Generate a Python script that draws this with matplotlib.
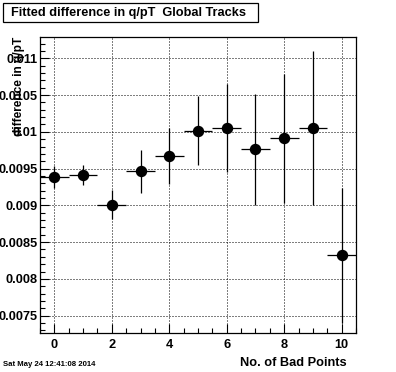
import numpy as np
import matplotlib
matplotlib.use("Agg")
import matplotlib.pyplot as plt
from matplotlib.ticker import MultipleLocator, FuncFormatter

plt.rcParams.update({
    "font.family": ["Liberation Sans", "DejaVu Sans"],
    "font.weight": "bold",
})

# ---- data ----
bad_points = [0, 1, 2, 3, 4, 5, 6, 7, 8, 9, 10]
fit_diff = [0.009388, 0.009418, 0.009010, 0.009463, 0.009668, 0.010018,
            0.010050, 0.009760, 0.009910, 0.010050, 0.008319]
fit_err = [0.00015, 0.000135, 0.00020, 0.00029, 0.00038, 0.00047,
           0.00060, 0.00075, 0.00088, 0.00105, 0.00092]
bin_half = [0.5] * len(bad_points)

W, H = 396, 372
fig = plt.figure(figsize=(W / 100, H / 100), dpi=100)
ax = fig.add_axes([40 / W, 1 - 333 / H, 316 / W, 296 / H])

ax.errorbar(bad_points, fit_diff, yerr=fit_err, xerr=bin_half,
            fmt="o", color="black", ms=7.2, lw=0.9, capsize=0, zorder=5)

ax.set_xlim(-0.5, 10.5)
ax.set_ylim(0.007264, 0.01129)

ax.xaxis.set_major_locator(MultipleLocator(2))
ax.xaxis.set_minor_locator(MultipleLocator(0.5))
ax.yaxis.set_major_locator(MultipleLocator(0.0005))
ax.yaxis.set_minor_locator(MultipleLocator(0.0001))
ax.yaxis.set_major_formatter(FuncFormatter(lambda v, p: "%g" % round(v, 6)))

ax.grid(True, which="major", color="black", lw=0.72, linestyle=(0, (1, 2)))
ax.tick_params(which="both", direction="in", top=False, right=False,
               labelsize=9.2, width=0.8)
ax.tick_params(which="major", length=6.5)
ax.tick_params(which="minor", length=3.6)
ax.tick_params(axis="y", pad=2)
ax.tick_params(axis="x", pad=4)
for s in ax.spines.values():
    s.set_linewidth(0.9)

# y-axis title sits at the top of the axis, over the tick labels
fig.text(19 / W, 1 - 37 / H, "difference in q/pT", rotation=90,
         ha="center", va="top", fontsize=8.6, fontweight="bold")
fig.text(347 / W, 1 - 363 / H, "No. of Bad Points", ha="right",
         va="center", fontsize=9.2, fontweight="bold")

# title box
fig.text(11 / W, 1 - 13 / H, "Fitted difference in q/pT  Global Tracks",
         ha="left", va="center", fontsize=9.2, fontweight="bold")
box = plt.Rectangle((3 / W, 1 - 22 / H), 255 / W, 19 / H,
                    transform=fig.transFigure, fill=False,
                    edgecolor="black", lw=0.9)
fig.patches.append(box)

fig.text(3 / W, 1 - 364 / H, "Sat May 24 12:41:08 2014", ha="left",
         va="center", fontsize=5.6, fontweight="bold")

fig.savefig("out.png", dpi=100, facecolor="white")
